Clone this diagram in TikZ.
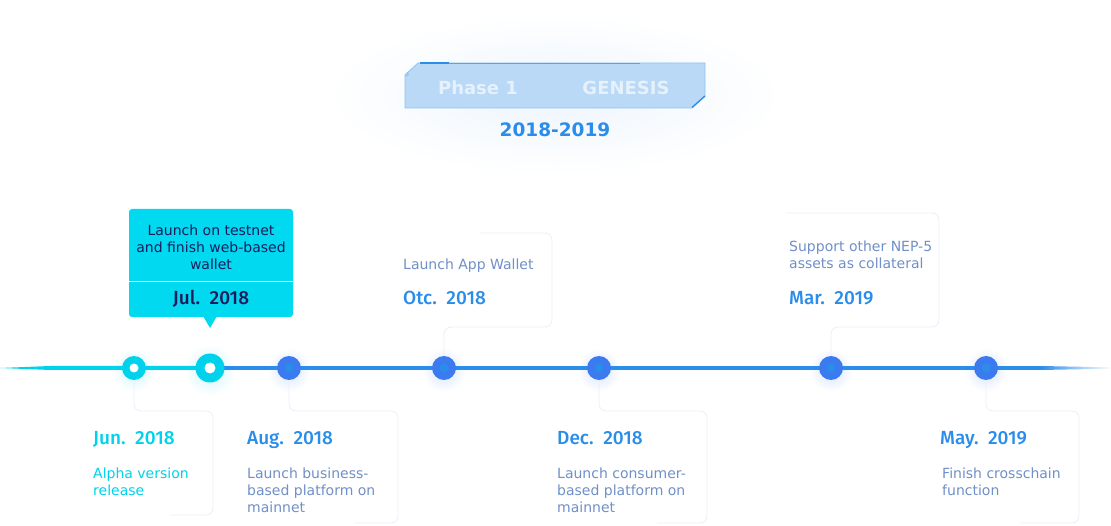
\documentclass[tikz,border=0pt]{standalone}
\usepackage{fontspec}
\setmainfont{DejaVu Sans}
\newfontfamily\datefont{Fira Sans}[UprightFont={* Medium}]
\definecolor{tlcyan}{HTML}{00D2EC}
\definecolor{tlblue}{HTML}{2A8DE9}
\definecolor{dotblue}{HTML}{3B7BEF}
\definecolor{desc}{HTML}{7090C8}
\definecolor{navy}{HTML}{1C1C5C}
\definecolor{callout}{HTML}{00D9EF}
\definecolor{connline}{HTML}{ECEFF9}
\definecolor{phasefill}{HTML}{B9D9F6}
\definecolor{phaseedge}{HTML}{8EC3F2}
\definecolor{phasetext}{HTML}{E6F1FC}
\definecolor{haze}{HTML}{EDF5FD}
\definecolor{glowc}{HTML}{CFF4FB}
\definecolor{glowb}{HTML}{D6E4FC}
\begin{document}
\begin{tikzpicture}[x=1pt,y=-1pt,
  cyandot/.style={circle,fill=tlcyan,inner sep=0pt,minimum size=#1},
  bluedot/.style={circle,fill=dotblue,inner sep=0pt,minimum size=24pt},
  conn/.style={draw=connline,line width=0.8pt,rounded corners=7pt},
  datelbl/.style={anchor=base west,inner sep=0pt,font=\datefont\fontsize{19}{21}\selectfont,text=tlblue},
  desclbl/.style={anchor=north west,inner sep=0pt,align=left,font=\fontsize{14}{17}\selectfont,text=desc},
  phaselbl/.style={inner sep=0pt,font=\bfseries\fontsize{18}{20}\selectfont,text=phasetext}]
\useasboundingbox (0,0) rectangle (1111,526);
\fill[white] (0,0) rectangle (1111,526);

% soft haze behind the phase banner
\shade[inner color=haze,outer color=white] (555,95) ellipse (230pt and 80pt);

% phase banner
\draw[fill=phasefill,draw=phaseedge,line width=0.8pt]
  (405,75) -- (418,63) -- (705,63) -- (705,96) -- (692,108) -- (405,108) -- cycle;
\draw[tlblue,line width=2pt] (420,63.5) -- (449,63.5);
\draw[tlblue!80,line width=0.9pt] (449,63.5) -- (640,63.5);
\draw[tlblue,line width=1.3pt] (705,96) -- (692,107.5);
\draw[phaseedge,line width=0.6pt] (407,74.5) circle (1.6pt);
\node[phaselbl] (phase) at (478,88) {Phase 1};
\node[phaselbl] (genesis) at (626,88) {GENESIS};
\node[inner sep=0pt,font=\bfseries\fontsize{18.5}{20}\selectfont,text=tlblue] (years) at (555,130) {2018-2019};

% glows under the milestones
\foreach \x/\c/\r in {134/glowc/22,210/glowc/26,289/glowb/22,444/glowb/22,599/glowb/22,831/glowb/22,986/glowb/22}
  \shade[inner color=\c,outer color=white] (\x,370) circle (\r pt);

% timeline bar
\fill[tlcyan] (0,368) -- (50,366) -- (210,366) -- (210,370) -- (50,370) -- cycle;
\fill[tlblue] (210,366) -- (1040,366) -- (1040,370) -- (210,370) -- cycle;
\shade[left color=tlblue,right color=white] (1040,366) -- (1111,367.3) -- (1111,368.7) -- (1040,370) -- cycle;

% milestones
\node[cyandot=24pt] (jun) at (134,368) {};
\fill[white] (jun.center) circle (4.5pt);
\node[cyandot=29pt] (jul) at (210,368) {};
\fill[white] (jul.center) circle (5.5pt);
\foreach \n/\x in {aug/289,otc/444,dec/599,mar/831,may/986}{
  \node[bluedot] (\n) at (\x,368) {};
  \fill[tlblue] (\n.center) circle (4.5pt);
}

% connector frames
\draw[conn] (jun.south) |- (213,411) |- (170,515);
\draw[conn] (aug.south) |- (398,411) |- (355,523);
\draw[conn] (otc.north) |- (552,327) |- (480,233);
\draw[conn] (dec.south) |- (707,411) |- (657,523);
\draw[conn] (mar.north) |- (939,327) |- (786,213);
\draw[conn] (may.south) |- (1079,411) |- (1020,523);

% callout for July
\fill[callout,rounded corners=3pt] (129,209) rectangle (293,317);
\fill[callout] (203,316) -- (217,316) -- (210,328) -- cycle;
\draw[white,line width=0.8pt] (129,281) -- (293,281);
\node[inner sep=0pt,align=center,anchor=north,font=\fontsize{14}{17}\selectfont,text=navy] (julnote) at (211,224.5)
  {Launch on testnet\\and finish web-based\\wallet};
\node[inner sep=0pt,anchor=base,font=\datefont\fontsize{19}{21}\selectfont,text=navy] (juldate) at (211,304.5) {Jul.\ \ 2018};

% labels below the bar
\node[datelbl,text=tlcyan] (jundate) at (93,444.5) {Jun.\ \ 2018};
\node[desclbl,text=tlcyan] (junnote) at (93,467.5) {Alpha version\\release};
\node[datelbl] (augdate) at (247,444.5) {Aug.\ \ 2018};
\node[desclbl] (augnote) at (247,467.5) {Launch business-\\based platform on\\mainnet};
\node[datelbl] (decdate) at (557,444.5) {Dec.\ \ 2018};
\node[desclbl] (decnote) at (557,467.5) {Launch consumer-\\based platform on\\mainnet};
\node[datelbl] (maydate) at (940,444.5) {May.\ \ 2019};
\node[desclbl] (maynote) at (942,467.5) {Finish crosschain\\function};

% labels above the bar
\node[desclbl] (otcnote) at (403,258.5) {Launch App Wallet};
\node[datelbl] (otcdate) at (403,304.5) {Otc.\ \ 2018};
\node[desclbl] (marnote) at (789,240.5) {Support other NEP-5\\assets as collateral};
\node[datelbl] (mardate) at (789,304.5) {Mar.\ \ 2019};
\end{tikzpicture}
\end{document}
